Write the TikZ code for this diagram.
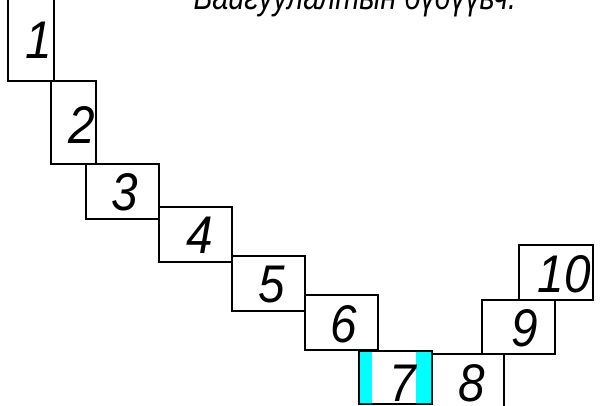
\documentclass[tikz,border=0pt]{standalone}
\usepackage{fontspec}
\setmainfont{Liberation Sans}
\newfontfamily\gostfont[FakeStretch=0.8]{Liberation Sans}
\newfontfamily\gostdigits[FakeStretch=0.9]{Liberation Sans}
\usepackage{tikz}

\definecolor{stripcyan}{RGB}{0,255,255}
\tikzset{numtext/.style={font=\gostdigits\fontsize{53}{53}\selectfont\itshape},
  titletext/.style={font=\gostfont\fontsize{36}{36}\selectfont\itshape, inner sep=0pt}}

\begin{document}
\begin{tikzpicture}[x=1pt,y=-1pt,line width=1.4pt]
  \useasboundingbox (0,0) rectangle (604,405);
  \clip (0,0) rectangle (604,405);
  % cyan strips of box 7
  \fill[stripcyan] (359,351) rectangle (372,405);
  \fill[stripcyan] (416,351) rectangle (432,405);
  \foreach \xa / \ya / \xb / \yb in {8/-3/54/81, 51/81/96/164, 86/164/159/219, 159/207/232/262,
      232/256/305/311, 305/295/378/350, 359/351/432/404, 482/300/555/354, 519/245/593/300}
     \draw (\xa,\ya) rectangle (\xb,\yb);
  \draw (432,354) -- (504,354) -- (504,410);
  \foreach \n / \x / \y in {1/39/40, 2/82/125, 3/125/192, 4/200/235, 5/272/285,
      6/344/324, 7/403/383, 8/472/383, 9/525/328, 10/564/274}
     \node[numtext] (d\n) at (\x,\y) {\n};
  \node[titletext, anchor=base west] (title) at (193,9) {Байгуулалтын бүдүүвч.};
\end{tikzpicture}
\end{document}
